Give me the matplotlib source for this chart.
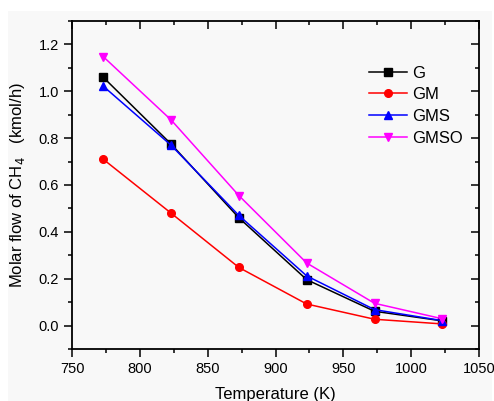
import matplotlib
matplotlib.use("Agg")
import matplotlib.pyplot as plt
from matplotlib.patches import Rectangle
from matplotlib.ticker import MultipleLocator

plt.rcParams['font.family'] = ['Liberation Sans', 'DejaVu Sans']

temperature = [773, 823, 873, 923, 973, 1023]
g = [1.06, 0.775, 0.46, 0.196, 0.061, 0.02]
gm = [0.71, 0.48, 0.248, 0.092, 0.027, 0.007]
gms = [1.022, 0.77, 0.47, 0.212, 0.068, 0.021]
gmso = [1.148, 0.878, 0.555, 0.267, 0.095, 0.029]

series = [
    ("G", g, "black", "s"),
    ("GM", gm, "red", "o"),
    ("GMS", gms, "blue", "^"),
    ("GMSO", gmso, "magenta", "v"),
]

fig = plt.figure(figsize=(4.94, 4.01), dpi=100)
fig.patch.set_facecolor("white")
# light gray panel behind the plot, as in the original export
fig.patches.append(Rectangle((8 / 494, 0), 484 / 494, 1 - 11 / 401,
                             transform=fig.transFigure, facecolor="#f8f8f8",
                             edgecolor="none", zorder=-10))

ax = fig.add_axes([72 / 494, 1 - 349 / 401, 407 / 494, 328 / 401])
ax.set_facecolor("#f8f8f8")

for name, vals, col, mk in series:
    ax.plot(temperature, vals, color=col, marker=mk, markersize=5.5,
            linewidth=1.1, label=name)

ax.set_xlim(750, 1050)
ax.set_ylim(-0.1, 1.3)
ax.xaxis.set_major_locator(MultipleLocator(50))
ax.xaxis.set_minor_locator(MultipleLocator(25))
ax.yaxis.set_major_locator(MultipleLocator(0.2))
ax.yaxis.set_minor_locator(MultipleLocator(0.1))
ax.yaxis.set_major_formatter(matplotlib.ticker.FormatStrFormatter('%.1f'))

for s in ax.spines.values():
    s.set_linewidth(1.3)

ax.tick_params(which="both", direction="out", labelsize=10.5, width=1.1)
ax.tick_params(which="major", length=5.5, pad=4)
ax.tick_params(which="minor", length=3)
ax.tick_params(which="both", top=True, right=True)

# top and right ticks point inwards
for t in ax.xaxis.get_major_ticks() + ax.xaxis.get_minor_ticks():
    t.tick2line.set_marker(matplotlib.lines.TICKDOWN)
for t in ax.yaxis.get_major_ticks() + ax.yaxis.get_minor_ticks():
    t.tick2line.set_marker(matplotlib.lines.TICKLEFT)

ax.set_xlabel("Temperature (K)", fontsize=12, labelpad=8)
ax.set_ylabel("Molar flow of CH$_4$   (kmol/h)", fontsize=12, labelpad=8)

ax.legend(loc="upper right", bbox_to_anchor=(0.998, 0.91), frameon=False,
          fontsize=12, handlelength=2.3, handletextpad=0.3, labelspacing=0.4,
          markerscale=1.0)

fig.savefig("out.png", dpi=100)
